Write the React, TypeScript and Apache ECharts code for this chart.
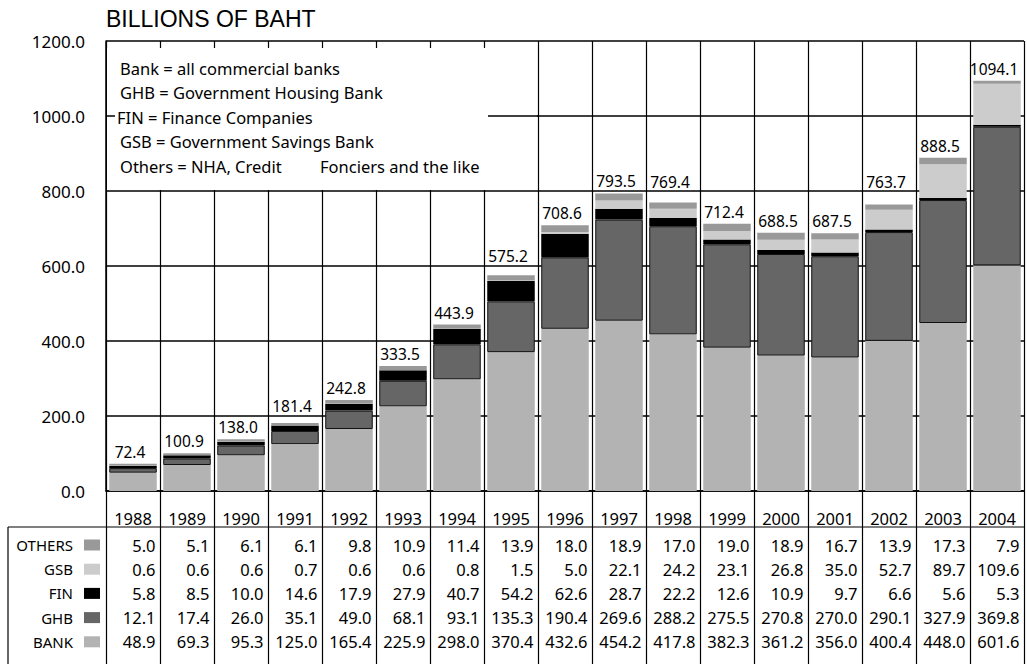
import React, { useEffect, useRef } from 'react';
import * as echarts from 'echarts';

const years = ['1988', '1989', '1990', '1991', '1992', '1993', '1994', '1995', '1996', '1997', '1998', '1999', '2000', '2001', '2002', '2003', '2004'];
const others = [5.0, 5.1, 6.1, 6.1, 9.8, 10.9, 11.4, 13.9, 18.0, 18.9, 17.0, 19.0, 18.9, 16.7, 13.9, 17.3, 7.9];
const gsb = [0.6, 0.6, 0.6, 0.7, 0.6, 0.6, 0.8, 1.5, 5.0, 22.1, 24.2, 23.1, 26.8, 35.0, 52.7, 89.7, 109.6];
const fin = [5.8, 8.5, 10.0, 14.6, 17.9, 27.9, 40.7, 54.2, 62.6, 28.7, 22.2, 12.6, 10.9, 9.7, 6.6, 5.6, 5.3];
const ghb = [12.1, 17.4, 26.0, 35.1, 49.0, 68.1, 93.1, 135.3, 190.4, 269.6, 288.2, 275.5, 270.8, 270.0, 290.1, 327.9, 369.8];
const bank = [48.9, 69.3, 95.3, 125.0, 165.4, 225.9, 298.0, 370.4, 432.6, 454.2, 417.8, 382.3, 361.2, 356.0, 400.4, 448.0, 601.6];
const totals = [72.4, 100.9, 138.0, 181.4, 242.8, 333.5, 443.9, 575.2, 708.6, 793.5, 769.4, 712.4, 688.5, 687.5, 763.7, 888.5, 1094.1];

const yMin = 0;
const yMax = 1200;
const yStep = 200;
const yTicks = [0, 200, 400, 600, 800, 1000, 1200];

const title = 'BILLIONS OF BAHT';
const notes = [
  'Bank = all commercial banks',
  'GHB = Government Housing Bank',
  'FIN = Finance Companies',
  'GSB = Government Savings Bank',
  'Others = NHA, Credit',
];
const notesTail = 'Fonciers and the like';

const FONT = '"Noto Sans", sans-serif';

const seriesDefs = [
  { name: 'BANK', data: bank, color: '#b3b3b3', border: 0 },
  { name: 'GHB', data: ghb, color: '#666666', border: 1 },
  { name: 'FIN', data: fin, color: '#000000', border: 0 },
  { name: 'GSB', data: gsb, color: '#cccccc', border: 0 },
  { name: 'OTHERS', data: others, color: '#999999', border: 0 },
];

// table rows, top to bottom
const tableRows = [
  { name: 'OTHERS', data: others },
  { name: 'GSB', data: gsb },
  { name: 'FIN', data: fin },
  { name: 'GHB', data: ghb },
  { name: 'BANK', data: bank },
];

export default function App() {
  const ref = useRef<HTMLDivElement>(null);

  useEffect(() => {
    if (!ref.current) return;
    const chart = echarts.init(ref.current, null, { renderer: 'svg' });

    const gridBottomY = 491;
    const rowCenters = [545, 569, 593, 617, 641.5];

    const rowAxes = tableRows.map((r, i) => ({
      type: 'category',
      gridIndex: 0,
      position: 'bottom',
      data: r.data.map((v) => v.toFixed(1)),
      axisLine: { show: false },
      axisTick: { show: false },
      splitLine: { show: false },
      axisLabel: {
        interval: 0,
        margin: rowCenters[i] - gridBottomY,
        verticalAlign: 'middle',
        formatter: (v: string) => '{v|' + v + '}',
        rich: {
          v: { width: 45, align: 'right', fontSize: 16.5, fontFamily: FONT, color: '#000' },
        },
      },
    }));

    const lineZ = 100;
    const notesX = 120;
    const notesY = [68, 92.5, 117, 141.5, 166];

    const topIdx = seriesDefs.length - 1;

    const option: any = {
      animation: false,
      backgroundColor: '#ffffff',
      textStyle: { fontFamily: FONT },
      grid: { left: 106, right: 3, top: 41, bottom: 664 - gridBottomY, containLabel: false },
      legend: {
        orient: 'vertical',
        align: 'right',
        right: 1027 - 100,
        top: 537,
        padding: 0,
        itemWidth: 16,
        itemHeight: 11,
        itemGap: 8.2,
        icon: 'rect',
        selectedMode: false,
        itemStyle: { borderWidth: 0 },
        textStyle: { fontSize: 15, fontFamily: FONT, color: '#000', lineHeight: 16, padding: [0, 6, 0, 0] },
        data: tableRows.map((r) => r.name),
      },
      xAxis: [
        {
          type: 'category',
          data: years,
          gridIndex: 0,
          position: 'bottom',
          axisLine: { show: true, lineStyle: { color: '#000', width: 1.5 } },
          axisTick: { show: true, interval: 0, length: 664 - gridBottomY, lineStyle: { color: '#000', width: 1.2 } },
          splitLine: { show: true, interval: 0, lineStyle: { color: '#000', width: 1.2 } },
          axisLabel: {
            interval: 0,
            margin: 27,
            verticalAlign: 'middle',
            fontSize: 16.5,
            fontFamily: FONT,
            color: '#000',
          },
        },
        ...rowAxes,
      ],
      yAxis: {
        type: 'value',
        min: yMin,
        max: yMax,
        interval: yStep,
        axisLine: { show: true, lineStyle: { color: '#000', width: 1.5 } },
        axisTick: { show: false },
        splitLine: { show: true, lineStyle: { color: '#000', width: 1.5 } },
        axisLabel: {
          margin: 21,
          fontSize: 17,
          fontFamily: FONT,
          color: '#000',
          formatter: (v: number) => v.toFixed(1),
        },
      },
      series: seriesDefs.map((s, idx) => ({
        name: s.name,
        type: 'bar',
        stack: 'total',
        xAxisIndex: 0,
        barCategoryGap: '12%',
        data: s.data,
        itemStyle: {
          color: s.color,
          borderColor: s.border ? '#111' : s.color,
          borderWidth: s.border ? 1 : 0,
        },
        label:
          idx === topIdx
            ? {
                show: true,
                position: 'top',
                distance: 4,
                offset: [-3, 0],
                fontSize: 15.5,
                fontFamily: FONT,
                color: '#000',
                formatter: (p: any) => totals[p.dataIndex].toFixed(1),
              }
            : { show: false },
      })),
      graphic: [
        {
          type: 'text',
          left: 106,
          top: 7,
          z: lineZ,
          style: { text: title, fontSize: 23, fontFamily: '"Liberation Sans", Arial, sans-serif', fill: '#000' },
        },
        {
          type: 'rect',
          z: lineZ,
          shape: { x: 107, y: 48, width: 430, height: 142 },
          style: { fill: '#ffffff' },
        },
        {
          type: 'line',
          z: lineZ,
          shape: { x1: 488, y1: 116, x2: 538, y2: 116 },
          style: { stroke: '#000', lineWidth: 1.5 },
        },
        {
          type: 'line',
          z: lineZ,
          shape: { x1: 106, y1: 116, x2: 115, y2: 116 },
          style: { stroke: '#000', lineWidth: 1.5 },
        },
        ...notes.map((t, i) => ({
          type: 'text',
          z: lineZ + 1,
          x: i === 2 ? 117 : notesX,
          y: notesY[i],
          style: { text: t, fontSize: 16.5, fontFamily: FONT, fill: '#000', verticalAlign: 'middle' },
        })),
        {
          type: 'text',
          z: lineZ + 1,
          x: 320,
          y: notesY[4],
          style: { text: notesTail, fontSize: 16.5, fontFamily: FONT, fill: '#000', verticalAlign: 'middle' },
        },
        {
          type: 'line',
          z: lineZ,
          shape: { x1: 8, y1: 527, x2: 1024, y2: 527 },
          style: { stroke: '#000', lineWidth: 1.2 },
        },
        {
          type: 'line',
          z: lineZ,
          shape: { x1: 8, y1: 527, x2: 8, y2: 664 },
          style: { stroke: '#000', lineWidth: 1.2 },
        },
      ],
    };

    chart.setOption(option);

    // Lift total labels that would sit on a gridline so they clear it (as in the original).
    const gridPx = yTicks.map((v) => chart.convertToPixel({ yAxisIndex: 0 }, v) as number);
    const topData = others.map((v, i) => {
      const barTop = (chart.convertToPixel({ xAxisIndex: 0, yAxisIndex: 0 }, [i, totals[i]]) as number[])[1];
      const center = barTop - 13.5;
      let dy = 0;
      for (const g of gridPx) {
        if (Math.abs(center - g) < 8) {
          dy = g - 11 - center;
        }
      }
      return { value: v, label: { offset: [-3, dy] } };
    });
    chart.setOption({
      series: seriesDefs.map((s, idx) => (idx === topIdx ? { name: s.name, data: topData } : { name: s.name })),
    });

    return () => chart.dispose();
  }, []);

  return (
    <div
      ref={ref}
      style={{ position: 'fixed', left: 0, top: 0, width: 1027, height: 664, background: '#fff' }}
    />
  );
}
